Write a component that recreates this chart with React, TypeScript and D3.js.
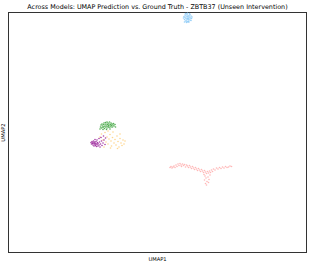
import React from "react";
import * as d3 from "d3";

const title = "Across Models: UMAP Prediction vs. Ground Truth - ZBTB37 (Unseen Intervention)";
const xLabel = "UMAP1";
const yLabel = "UMAP2";

const blue: [number, number][] = [
  [17.55,23.5],[17.6,23.65],[17.65,23.35],[17.7,23.8],[17.7,23.55],[17.75,23.2],[17.8,23.45],[17.8,23.7],[17.85,23.9],[17.85,23.3],[17.9,23.6],[17.9,23.15],[17.95,23.45],[17.95,23.8],[18.0,23.35],[18.0,23.65],[18.05,23.5],[18.05,23.2],[18.1,23.75],[18.1,23.4],[18.15,23.6],[18.2,23.3],[18.2,23.85],[18.25,23.5],[18.3,23.7],[18.3,23.25],[18.35,23.45],[17.75,23.95],[17.95,24.0],[18.15,23.95],[17.65,23.1],[18.0,23.1],[18.4,23.6],[17.85,23.05],[18.1,23.1]
];
const green: [number, number][] = [
  [9.25,12.6],[9.3,12.8],[9.35,12.5],[9.4,12.9],[9.45,12.7],[9.5,12.55],[9.55,12.85],[9.6,13.0],[9.6,12.65],[9.65,12.45],[9.7,12.8],[9.75,13.05],[9.75,12.6],[9.8,12.9],[9.85,12.7],[9.9,13.1],[9.9,12.5],[9.95,12.85],[10.0,12.65],[10.0,13.0],[10.05,12.75],[10.1,12.9],[10.1,12.55],[10.15,13.1],[10.2,12.7],[10.25,12.85],[10.3,12.6],[10.3,13.0],[10.35,12.75],[10.4,12.9],[10.45,12.6],[10.5,12.8],[10.55,12.95],[10.6,12.7],[10.7,12.85],[10.75,12.6],[9.5,12.35],[9.85,12.35],[10.2,12.4],[9.2,12.4]
];
const purple: [number, number][] = [
  [8.3,11.05],[8.35,10.9],[8.4,11.15],[8.45,10.95],[8.5,11.05],[8.5,10.8],[8.55,11.2],[8.6,10.95],[8.6,10.7],[8.65,11.1],[8.7,10.85],[8.7,11.0],[8.75,10.75],[8.8,10.95],[8.8,11.15],[8.85,10.65],[8.9,10.85],[8.95,11.05],[9.0,10.7],[9.0,10.95],[9.1,10.8],[9.15,11.1],[9.2,10.6],[9.25,10.9],[9.35,11.2],[9.4,10.75],[9.5,11.0],[9.6,11.3],[9.7,10.85],[8.9,11.3],[9.1,11.45],[9.3,11.55],[8.7,11.35],[9.55,11.7],[9.75,11.5]
];
const orange: [number, number][] = [
  [9.2,11.6],[9.35,11.9],[9.5,11.3],[9.7,12.05],[9.8,11.1],[9.9,11.6],[10.0,10.9],[10.1,11.4],[10.2,11.85],[10.3,11.2],[10.35,10.7],[10.45,11.55],[10.5,12.1],[10.6,11.0],[10.7,11.35],[10.8,10.8],[10.9,11.7],[11.0,11.15],[11.1,10.6],[11.2,11.45],[11.3,11.0],[11.4,10.75],[11.5,11.3],[11.6,10.9],[11.7,11.2],[10.25,10.5],[10.95,10.45],[9.6,10.6],[11.2,11.9],[10.0,12.2]
];
const red: [number, number][] = [
  [16.2,8.55],[16.3,8.65],[16.4,8.5],[16.5,8.6],[16.6,8.7],[16.7,8.55],[16.8,8.8],[16.9,8.65],[17.0,8.9],[17.1,8.75],[17.2,8.95],[17.3,8.8],[17.35,8.65],[17.45,8.9],[17.55,8.75],[17.65,8.85],[17.75,8.6],[17.85,8.8],[17.95,8.7],[18.05,8.55],[18.15,8.75],[18.25,8.6],[18.35,8.45],[18.45,8.65],[18.55,8.5],[18.65,8.35],[18.75,8.55],[18.85,8.4],[18.95,8.25],[19.05,8.45],[19.15,8.3],[19.25,8.15],[19.35,8.35],[19.45,8.2],[19.55,8.05],[19.65,8.25],[19.75,8.1],[19.85,7.95],[19.95,8.15],[20.05,8.0],[20.15,8.2],[20.25,8.05],[20.35,8.3],[20.45,8.15],[20.55,8.4],[20.7,8.3],[20.85,8.5],[21.0,8.4],[21.15,8.55],[21.3,8.45],[21.45,8.6],[21.6,8.5],[21.75,8.65],[21.9,8.55],[22.05,8.6],[22.2,8.7],[22.35,8.65],[19.7,7.7],[19.8,7.5],[19.65,7.3],[19.9,7.15],[19.75,6.95],[20.0,7.6],[20.1,7.35],[19.85,6.8],[20.2,7.8],[19.6,7.85],[20.05,7.05]
];

const series = [
  { name: "blue", data: blue, color: "#6fbef5", opacity: 0.7 },
  { name: "red", data: red, color: "#ff4a4a", opacity: 0.4 },
  { name: "orange", data: orange, color: "#ffb020", opacity: 0.5 },
  { name: "green", data: green, color: "#1e961e", opacity: 0.75 },
  { name: "purple", data: purple, color: "#8b008b", opacity: 0.75 },
];

const W = 311, H = 264;
const L = 8.5, R = 306.5, T = 12.5, B = 252.5;

export default function App() {
  const x = d3.scaleLinear().domain([0, 29.9]).range([8, 307]);
  const y = d3.scaleLinear().domain([0, 24.1]).range([253, 12]);
  return (
    <div style={{ position: "fixed", left: 0, top: 0 }}>
      <svg width={W} height={H} style={{ display: "block", background: "#fff" }} fontFamily="DejaVu Sans">
        <text x={(L + R) / 2} y={9} textAnchor="middle" fontSize={6.4} fill="#000">{title}</text>
        <rect x={L} y={T} width={R - L} height={B - T} fill="none" stroke="#333" strokeWidth={1} />
        {series.map((s) => (
          <g key={s.name} fill={s.color} fillOpacity={s.opacity}>
            {s.data.map((d, i) => (
              <circle key={i} cx={x(d[0])} cy={y(d[1])} r={0.8} />
            ))}
          </g>
        ))}
        <text x={(L + R) / 2} y={261} textAnchor="middle" fontSize={5.2} fill="#000">{xLabel}</text>
        <text transform={`translate(5,${(T + B) / 2}) rotate(-90)`} textAnchor="middle" fontSize={5.2} fill="#000">{yLabel}</text>
      </svg>
    </div>
  );
}
